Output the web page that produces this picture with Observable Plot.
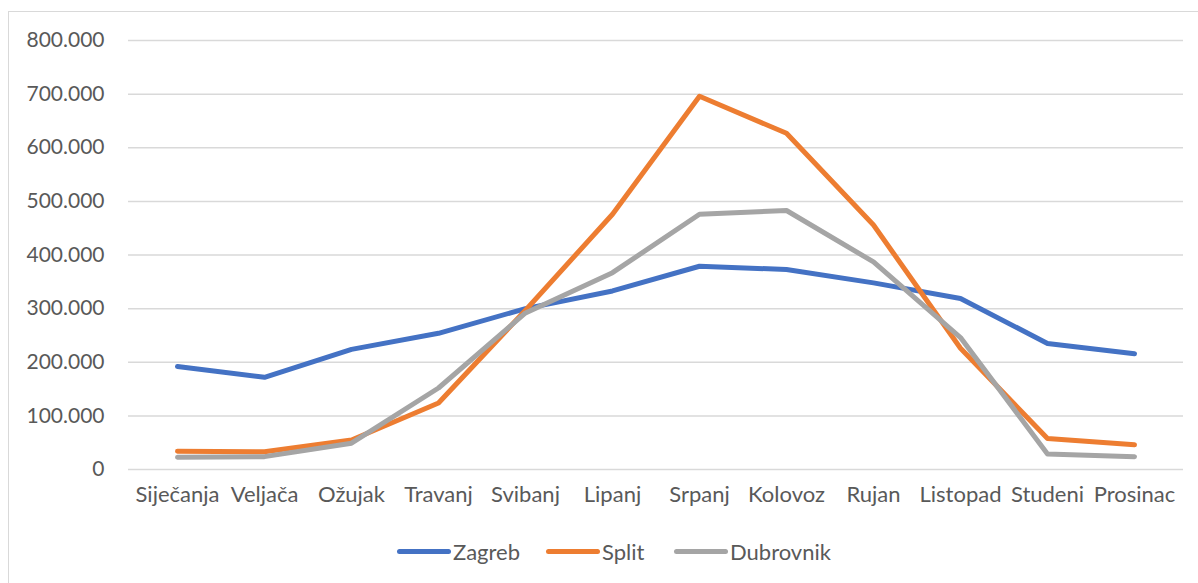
<!DOCTYPE html>
<html>
<head>
<meta charset="utf-8">
<script src="https://cdn.jsdelivr.net/npm/d3@7"></script>
<script src="https://cdn.jsdelivr.net/npm/@observablehq/plot@0.6"></script>
<style>
  html, body { margin: 0; padding: 0; background: #fff; }
  body { width: 1198px; height: 583px; position: relative; overflow: hidden; font-family: Lato, "Open Sans", sans-serif; }
  #frame { position: absolute; left: 8px; top: 11px; width: 1200px; height: 600px; border: 1.5px solid #D9D9D9; box-sizing: border-box; }
  #chart { position: absolute; left: 0; top: 0; }
  #legend { position: absolute; left: 0; top: 536px; width: 1198px; height: 30px; }
  .item { position: absolute; top: 0; display: flex; align-items: center; height: 30px; font-size: 22px; color: #595959; }
  .sw { display: inline-block; width: 54px; height: 5px; border-radius: 3px; margin-right: 2px; }
</style>
</head>
<body>
<div id="frame"></div>
<div id="chart"></div>
<div id="legend"></div>
<script>
const months = ["Siječanja","Veljača","Ožujak","Travanj","Svibanj","Lipanj","Srpanj","Kolovoz","Rujan","Listopad","Studeni","Prosinac"];
const zagreb = [192000,172000,224000,254000,300000,333000,379000,373000,348000,319000,235000,216000];
const split = [34000,33000,55000,124000,297000,476000,696000,627000,456000,226000,58000,46000];
const dubrovnik = [23000,24000,49000,152000,292000,367000,476000,483000,387000,246000,29000,24000];
const seriesNames = ["Zagreb","Split","Dubrovnik"];
const seriesColors = ["#4472C4","#ED7D31","#A5A5A5"];
const yTicks = [0,100000,200000,300000,400000,500000,600000,700000,800000];

const loc = d3.formatLocale({decimal: ",", thousands: ".", grouping: [3], currency: ["", ""]});
const fmt = loc.format(",");

const values = [zagreb, split, dubrovnik];
const data = [];
seriesNames.forEach((s, i) => months.forEach((m, j) => data.push({series: s, month: m, value: values[i][j]})));

const chart = Plot.plot({
  width: 1198,
  height: 520,
  marginLeft: 128,
  marginRight: 15,
  marginTop: 40,
  marginBottom: 51,
  style: {fontFamily: "Lato, 'Open Sans', sans-serif", fontSize: "21px", color: "#595959", background: "transparent"},
  x: {type: "point", domain: months, padding: 0.5, label: null},
  y: {domain: [0, 800000], label: null},
  color: {domain: seriesNames, range: seriesColors},
  marks: [
    Plot.ruleY(yTicks, {stroke: "#D9D9D9", strokeWidth: 1.5}),
    Plot.axisY({ticks: yTicks, tickFormat: fmt, tickSize: 0, tickPadding: 24, fontSize: 21, fill: "#595959", label: null}),
    Plot.axisX({tickSize: 0, tickPadding: 17, fontSize: 22, fill: "#595959", label: null}),
    Plot.line(data, {x: "month", y: "value", z: "series", stroke: "series", strokeWidth: 5, strokeLinecap: "round", strokeLinejoin: "round"})
  ]
});
document.getElementById("chart").appendChild(chart);

const legendPos = [397, 546, 674];
const legend = document.getElementById("legend");
seriesNames.forEach((s, i) => {
  const it = document.createElement("div");
  it.className = "item";
  it.style.left = legendPos[i] + "px";
  const sw = document.createElement("span");
  sw.className = "sw";
  sw.style.background = seriesColors[i];
  it.appendChild(sw);
  it.appendChild(document.createTextNode(s));
  legend.appendChild(it);
});
</script>
</body>
</html>
